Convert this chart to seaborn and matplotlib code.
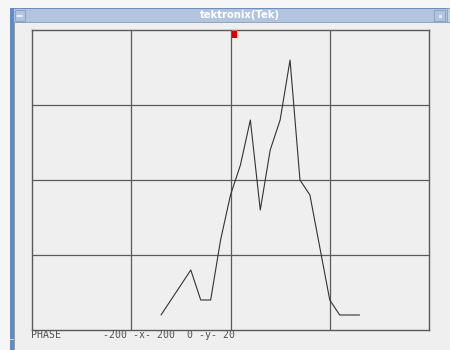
import matplotlib
matplotlib.use("Agg")
import matplotlib.pyplot as plt
from matplotlib.patches import Rectangle
import numpy as np
import pandas as pd
import seaborn as sns

# phase trace samples
phase_x = [-70, -40, -30, -20, -10, 0, 10, 20, 30, 40, 50, 60, 70, 80, 90, 100, 110, 130]
phase_y = [1, 4, 2, 2, 6, 9, 11, 14, 8, 12, 14, 18, 10, 9, 5.5, 2, 1, 1]

x_range = [-200, 200]
y_range = [0, 20]
x_grid = [-100, 0, 100]
y_grid = [5, 10, 15]

status_text = "PHASE       -200 -x- 200  0 -y- 20"
window_title = "tektronix(Tek)"

sns.set_style("white")
plt.rcParams["font.family"] = ["DejaVu Sans"]

W, H = 450, 350
fig = plt.figure(figsize=(W / 100, H / 100), dpi=100)
fig.patch.set_facecolor("#f6f6f6")

# window frame drawn in pixel space
bg = fig.add_axes([0, 0, 1, 1], zorder=-1)
bg.set_xlim(0, W)
bg.set_ylim(H, 0)
bg.axis("off")
bg.add_patch(Rectangle((10, 8), 440, 342, facecolor="#efefef", edgecolor="none"))
# title bar
bg.add_patch(Rectangle((10, 8), 440, 14, facecolor="#b3c5de", edgecolor="none"))
bg.add_patch(Rectangle((10, 7.5), 440, 1.5, facecolor="#6d8fbd", edgecolor="none"))
bg.add_patch(Rectangle((10, 21.5), 440, 1.2, facecolor="#8fa6c6", edgecolor="none"))
# left border with resize notch
bg.add_patch(Rectangle((10, 8), 3.5, 342, facecolor="#5f8cc4", edgecolor="none"))
bg.add_patch(Rectangle((10, 339), 3.5, 1.2, facecolor="#c9d6e8", edgecolor="none"))
bg.add_patch(Rectangle((13.5, 22), 1.2, 328, facecolor="#9a9a9a", edgecolor="none"))
# title bar buttons
bg.add_patch(Rectangle((14.5, 9.5), 10, 11.5, facecolor="#b3c5de", edgecolor="#8ea5c7", lw=0.8))
bg.plot([17, 22], [15.5, 15.5], color="#f4f6fa", lw=1.2)
bg.add_patch(Rectangle((434, 9.5), 11, 11.5, facecolor="#b3c5de", edgecolor="#8ea5c7", lw=0.8))
bg.plot([439.5], [15.5], marker="s", ms=1.2, color="#e8ecf3")
bg.add_patch(Rectangle((447, 8), 3, 14, facecolor="#c5d3e6", edgecolor="#8ea5c7", lw=0.8))
bg.text(240, 15, window_title, color="white", fontsize=7.2, fontweight="semibold",
        ha="center", va="center")
# status line
bg.text(31, 335.5, status_text, family="DejaVu Sans Mono", fontsize=7.1,
        color="#505050", ha="left", va="center")

# plotting area
L, T, R, B = 32, 30, 429, 330
ax = fig.add_axes([L / W, 1 - B / H, (R - L) / W, (B - T) / H])
ax.set_facecolor("#efefef")

df = pd.DataFrame({"x": phase_x, "y": phase_y})
sns.lineplot(data=df, x="x", y="y", ax=ax, color="#333333", lw=0.8, sort=False)

ax.set_xlim(*x_range)
ax.set_ylim(*y_range)
ax.set_xticks(x_grid)
ax.set_yticks(y_grid)
ax.tick_params(length=0, labelbottom=False, labelleft=False)
ax.set_xlabel("")
ax.set_ylabel("")
ax.grid(True, color="#5a5a5a", lw=0.9)
ax.set_axisbelow(True)
for s in ax.spines.values():
    s.set_color("#5a5a5a")
    s.set_linewidth(1.0)

# cursor marker at the top edge, above the plotting area
cur = fig.add_axes([0, 0, 1, 1], zorder=5)
cur.set_xlim(0, W)
cur.set_ylim(H, 0)
cur.axis("off")
cur.patch.set_alpha(0)
cur.add_patch(Rectangle((232, 30.5), 4.5, 7, facecolor="#d40000", edgecolor="none"))
cur.add_patch(Rectangle((232, 29.5), 4.5, 1.5, facecolor="#f06060", edgecolor="none"))

fig.savefig("out.png", dpi=100)
